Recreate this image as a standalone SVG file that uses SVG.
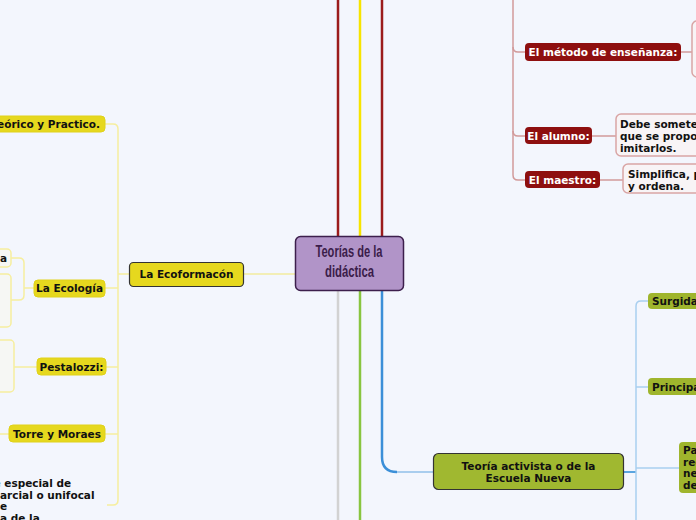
<svg xmlns="http://www.w3.org/2000/svg" width="696" height="520" viewBox="0 0 696 520">
<style>
text{font-family:"DejaVu Sans","Liberation Sans",sans-serif;font-weight:bold;font-size:10.5px;fill:#111}
.c{text-anchor:middle}
.w{fill:#fff}
.title{font-family:"Liberation Sans",sans-serif;font-size:16px;fill:#3b1d4a}
.main{fill:none;stroke-width:2.5}
.yl{fill:none;stroke:#f6ee9e;stroke-width:1.5}
.rl{fill:none;stroke:#d29a9a;stroke-width:1.5}
.bl{fill:none;stroke:#a9cfef;stroke-width:1.5}
.ybox{fill:#e6d81e;stroke:#e0d21a;stroke-width:1}
.ylight{fill:#f6f7f4;stroke:#f6ee9e;stroke-width:1.5}
.rbox{fill:#8e0f0f}
.rlight{fill:#f8f4f6;stroke:#d9a5a5;stroke-width:1.5}
.gbox{fill:#9fb52d}
</style>
<rect width="696" height="520" fill="#f3f6fd"/>
<g id="connectors">
<path class="main" d="M338,236V0" stroke="#9b1c1c"/>
<path class="main" d="M360,236V0" stroke="#f7e400"/>
<path class="main" d="M382,236V0" stroke="#9b1c1c"/>
<path class="main" d="M338,291V520" stroke="#d2d2d2"/>
<path class="main" d="M360,291V520" stroke="#88c540"/>
<path class="main" d="M382,291V457Q382,472 397,472" stroke="#3b8fd8"/>
<path d="M397,472H433" stroke="#a9cdee" stroke-width="2" fill="none"/>
<path d="M295,274H243" stroke="#f2eeb6" stroke-width="2" fill="none"/>
<path class="yl" d="M129,274H118"/>
<path class="yl" d="M105,124H113Q118,124 118,129V500Q118,505 113,505H107"/>
<path class="yl" d="M118,288H105"/>
<path class="yl" d="M118,367H106"/>
<path class="yl" d="M118,434H105"/>
<path class="yl" d="M9,434H0"/>
<path class="yl" d="M34,288H24"/>
<path class="yl" d="M11,258H19Q24,258 24,263V295Q24,300 19,300H11"/>
<path class="yl" d="M37,367H14"/>
<path class="rl" d="M513,0V175Q513,180 518,180H525"/>
<path class="rl" d="M513,47Q513,52 518,52H525"/>
<path class="rl" d="M513,131Q513,136 518,136H525"/>
<path class="rl" d="M681,52H692"/>
<path class="rl" d="M592,136H616"/>
<path class="rl" d="M600,180H623"/>
<path d="M624,472H636" stroke="#5aa5e0" stroke-width="2" fill="none"/>
<path class="bl" d="M648,301H641Q636,301 636,306V520"/>
<path class="bl" d="M636,387H648"/>
<path class="bl" d="M636,468H679"/>
</g>
<g id="center">
<rect x="295.5" y="236.5" width="108" height="54" rx="5" fill="#b194c8" stroke="#3c1f4c" stroke-width="1.5"/>
<text x="315.5" y="257" class="title" textLength="67" lengthAdjust="spacingAndGlyphs">Teorías de la</text>
<text x="325" y="277" class="title" textLength="49" lengthAdjust="spacingAndGlyphs">didáctica</text>
</g>
<g id="ecoformacion">
<rect x="129.5" y="262.5" width="114" height="24" rx="4" fill="#e6d81e" stroke="#333" stroke-width="1.2"/>
<text x="186.5" y="278" class="c">La Ecoformacón</text>
</g>
<g id="teorico">
<rect x="-20" y="116" width="125" height="16" rx="4" class="ybox"/>
<text x="100" y="128" style="text-anchor:end">eórico y Practico.</text>
</g>
<g id="ecologia">
<rect x="34" y="280" width="71" height="17" rx="4" class="ybox"/>
<text x="69.5" y="292" class="c">La Ecología</text>
</g>
<g id="ecologia-a">
<rect x="-20" y="249" width="31" height="18" rx="4" class="ylight"/>
<text x="7" y="262" style="text-anchor:end">a</text>
</g>
<g id="ecologia-b">
<rect x="-40" y="274" width="51" height="53" rx="4" class="ylight"/>
</g>
<g id="pestalozzi">
<rect x="37" y="358" width="69" height="17" rx="4" class="ybox"/>
<text x="71.5" y="370.5" class="c">Pestalozzi:</text>
</g>
<g id="pestalozzi-child">
<rect x="-40" y="340" width="54" height="52" rx="4" class="ylight"/>
</g>
<g id="torre">
<rect x="9" y="425" width="96" height="17" rx="4" class="ybox"/>
<text x="57" y="438" class="c">Torre y Moraes</text>
</g>
<g id="especial">
<text x="-6.5" y="487">e especial de</text>
<text x="0" y="498.5">arcial o unifocal</text>
<text x="0" y="510">e</text>
<text x="0" y="521.5">a de la</text>
</g>
<g id="metodo">
<rect x="525" y="43" width="156" height="18" rx="4" class="rbox"/>
<text x="603" y="56" class="c w">El método de enseñanza:</text>
</g>
<g id="metodo-child">
<rect x="692" y="21" width="40" height="56" rx="5" class="rlight"/>
</g>
<g id="alumno">
<rect x="525" y="127" width="67" height="17" rx="4" class="rbox"/>
<text x="558.5" y="140" class="c w">El alumno:</text>
</g>
<g id="alumno-child">
<rect x="616" y="114" width="120" height="42" rx="5" class="rlight"/>
<text x="620" y="128">Debe someter</text>
<text x="620" y="140">que se propor</text>
<text x="620" y="152">imitarlos.</text>
</g>
<g id="maestro">
<rect x="525" y="171" width="75" height="17" rx="4" class="rbox"/>
<text x="562.5" y="184" class="c w">El maestro:</text>
</g>
<g id="maestro-child">
<rect x="623" y="164" width="120" height="29" rx="5" class="rlight"/>
<text x="628" y="178">Simplifica, p</text>
<text x="628" y="190">y ordena.</text>
</g>
<g id="activista">
<rect x="433.5" y="453.5" width="190" height="36" rx="5" fill="#a0b830" stroke="#333" stroke-width="1.2"/>
<text x="528.5" y="469.5" class="c">Teoría activista o de la</text>
<text x="528.5" y="481.5" class="c">Escuela Nueva</text>
</g>
<g id="surgida">
<rect x="648" y="293" width="60" height="16" rx="4" class="gbox"/>
<text x="652" y="305">Surgida</text>
</g>
<g id="principa">
<rect x="648" y="378" width="60" height="17" rx="4" class="gbox"/>
<text x="652" y="391">Principa</text>
</g>
<g id="pa">
<rect x="679" y="442" width="30" height="51" rx="4" class="gbox"/>
<text x="683" y="454">Pa</text>
<text x="683" y="465.5">rec</text>
<text x="683" y="477">ne</text>
<text x="683" y="488.5">de</text>
</g>
</svg>
